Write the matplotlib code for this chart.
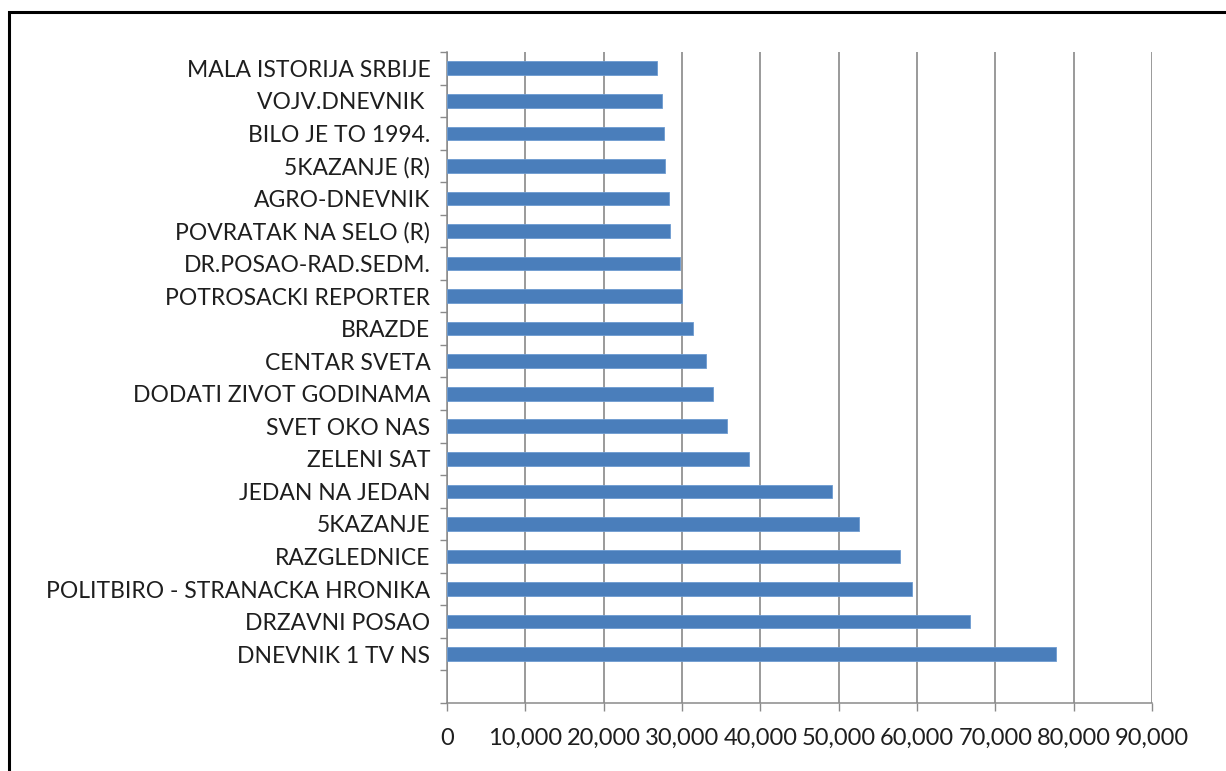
import matplotlib.pyplot as plt
from matplotlib.patches import Rectangle
from matplotlib.ticker import FuncFormatter

# shows, top to bottom as in the chart
shows = ["MALA ISTORIJA SRBIJE", "VOJV.DNEVNIK ", "BILO JE TO 1994.", "5KAZANJE (R)",
         "AGRO-DNEVNIK", "POVRATAK NA SELO (R)", "DR.POSAO-RAD.SEDM.", "POTROSACKI REPORTER",
         "BRAZDE", "CENTAR SVETA", "DODATI ZIVOT GODINAMA", "SVET OKO NAS", "ZELENI SAT",
         "JEDAN NA JEDAN", "5KAZANJE", "RAZGLEDNICE", "POLITBIRO - STRANACKA HRONIKA",
         "DRZAVNI POSAO", "DNEVNIK 1 TV NS"]
viewers = [26800, 27400, 27700, 27800, 28400, 28500, 29700, 30000, 31400, 33100,
           34000, 35700, 38500, 49100, 52600, 57800, 59400, 66800, 77700]
xticks = [0, 10000, 20000, 30000, 40000, 50000, 60000, 70000, 80000, 90000]

plt.rcParams['font.family'] = ['Lato', 'DejaVu Sans']

fig = plt.figure(figsize=(12.26, 7.71), dpi=100)
ax = fig.add_axes([0.3646, 0.0882, 0.5750, 0.8444])

n = len(shows)
ypos = [n - i for i in range(n)]  # slot 0 at the bottom stays empty
ax.barh(ypos, viewers, height=0.42, color='#4a7ebb', edgecolor='#6d9bd1', lw=0.6, zorder=3)

ax.set_xlim(0, 90000)
ax.set_ylim(-0.5, n + 0.5)
ax.set_xticks(xticks)
ax.xaxis.set_major_formatter(FuncFormatter(lambda v, p: f"{int(v):,}"))
ax.tick_params(axis='x', length=6, width=1, color='#8a8a8a', pad=12,
               labelsize=17, labelcolor='#1e1e1e')
ax.grid(axis='x', color='#7f7f7f', lw=1.1, zorder=0)

ax.set_yticks(ypos)
ax.set_yticklabels(shows)
ax.set_yticks([k - 0.5 for k in range(n + 2)], minor=True)
ax.tick_params(axis='y', which='major', length=0, pad=12, labelsize=16.5, labelcolor='#1e1e1e')
ax.tick_params(axis='y', which='minor', length=5, width=1, color='#8a8a8a')

for s in ['top', 'right']:
    ax.spines[s].set_visible(False)
for s in ['left', 'bottom']:
    ax.spines[s].set_color('#8a8a8a')
    ax.spines[s].set_linewidth(1.1)

# black frame around the chart, cut by the image edges
fig.add_artist(Rectangle((9 / 1226, -0.05), 1.2, (771 - 12) / 771 + 0.05,
                         transform=fig.transFigure, fill=False, ec='black', lw=2.2))

fig.savefig('out.png', dpi=100)
